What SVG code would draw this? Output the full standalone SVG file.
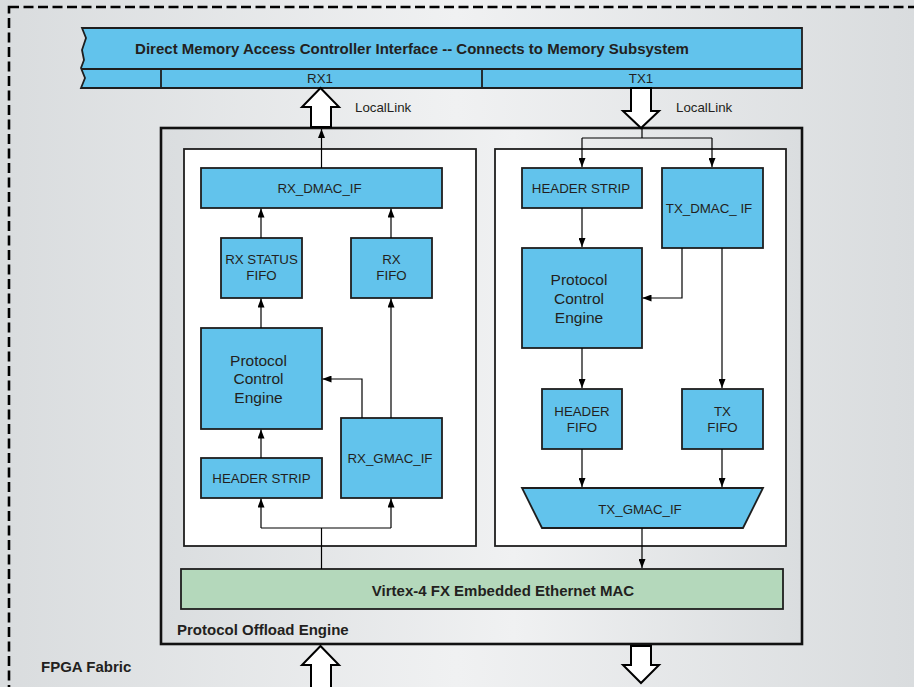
<svg xmlns="http://www.w3.org/2000/svg" width="914" height="687" viewBox="0 0 914 687">
  <defs>
    <linearGradient id="bgGrad" gradientUnits="userSpaceOnUse" x1="0" y1="0" x2="914" y2="0">
      <stop offset="0" stop-color="#d9dcde"/>
      <stop offset="0.5" stop-color="#f0f1f2"/>
      <stop offset="1" stop-color="#d9dcde"/>
    </linearGradient>
    <linearGradient id="poeGrad" gradientUnits="userSpaceOnUse" x1="161" y1="0" x2="802" y2="0">
      <stop offset="0" stop-color="#dadddf"/>
      <stop offset="0.55" stop-color="#f0f1f2"/>
      <stop offset="1" stop-color="#dadddf"/>
    </linearGradient>
    <marker id="arrow" viewBox="0 0 9 7" markerUnits="userSpaceOnUse" markerWidth="9" markerHeight="7" refX="9" refY="3.5" orient="auto">
      <path d="M0,0 L9,3.5 L0,7 Z" fill="#000"/>
    </marker>
    <style>
      .blk { fill: #62c3ec; stroke: #1e1e1e; stroke-width: 1.8; }
      .mac { fill: #b4d8bb; stroke: #1e1e1e; stroke-width: 1.8; }
      .pane { fill: #ffffff; stroke: #1e1e1e; stroke-width: 1.8; }
      .wire { fill: none; stroke: #000; stroke-width: 1.2; }
      .fat { fill: #ffffff; stroke: #000; stroke-width: 2; stroke-linejoin: miter; }
      .lbl { font-family: "Liberation Sans", Arial, sans-serif; font-size: 13.3px; fill: #231f20; text-anchor: middle; }
      .big { font-size: 15.5px; }
      .bold { font-family: "Liberation Sans", Arial, sans-serif; font-size: 15px; font-weight: bold; fill: #231f20; }
      .mid { text-anchor: middle; }
      .side { font-family: "Liberation Sans", Arial, sans-serif; font-size: 13.3px; fill: #231f20; }
    </style>
  </defs>

  <!-- FPGA fabric background -->
  <rect x="0" y="0" width="914" height="687" fill="url(#bgGrad)"/>
  <rect x="9" y="7" width="920" height="700" fill="none" stroke="#000" stroke-width="2.6" stroke-dasharray="10 4.5"/>
  <text class="bold" x="41" y="672">FPGA Fabric</text>

  <!-- DMA controller interface banner -->
  <g id="dmac-banner">
    <path d="M82,28 L802,28 L802,88 L81,88 L85,78 L81,68 L84,60 L82,50 L86,38 Z" fill="#62c3ec" stroke="#1e1e1e" stroke-width="1.8"/>
    <line x1="81" y1="69" x2="802" y2="69" stroke="#1e1e1e" stroke-width="1.8"/>
    <line x1="161" y1="69" x2="161" y2="88" stroke="#1e1e1e" stroke-width="1.8"/>
    <line x1="482" y1="69" x2="482" y2="88" stroke="#1e1e1e" stroke-width="1.8"/>
    <text class="bold mid" x="412" y="53.5">Direct Memory Access Controller Interface -- Connects to Memory Subsystem</text>
    <text class="lbl" x="320" y="83">RX1</text>
    <text class="lbl" x="641" y="83">TX1</text>
  </g>

  <!-- Protocol offload engine enclosure -->
  <g id="poe">
    <rect x="161" y="128" width="641" height="516" fill="url(#poeGrad)" stroke="#111" stroke-width="2.6"/>
    <text class="bold" x="177" y="634.5">Protocol Offload Engine</text>
  </g>

  <g id="rx-pane"><rect class="pane" x="184" y="149" width="292" height="397"/></g>
  <g id="tx-pane"><rect class="pane" x="495" y="149" width="291" height="397"/></g>

  <!-- Receive path blocks -->
  <g id="rx-dmac-if">
    <rect class="blk" x="201" y="168" width="241" height="40"/>
    <text class="lbl" x="319.5" y="193">RX_DMAC_IF</text>
  </g>
  <g id="rx-status-fifo">
    <rect class="blk" x="221" y="238" width="81" height="60"/>
    <text class="lbl" x="261.5" y="264">RX STATUS</text>
    <text class="lbl" x="261.5" y="280">FIFO</text>
  </g>
  <g id="rx-fifo">
    <rect class="blk" x="351" y="238" width="81" height="60"/>
    <text class="lbl" x="391.5" y="264">RX</text>
    <text class="lbl" x="391.5" y="280">FIFO</text>
  </g>
  <g id="rx-pce">
    <rect class="blk" x="201" y="328" width="121" height="101"/>
    <text class="lbl big" x="258.5" y="365.5">Protocol</text>
    <text class="lbl big" x="258.5" y="384">Control</text>
    <text class="lbl big" x="258.5" y="402.5">Engine</text>
  </g>
  <g id="rx-header-strip">
    <rect class="blk" x="201" y="458" width="121" height="40"/>
    <text class="lbl" x="261.5" y="482.5">HEADER STRIP</text>
  </g>
  <g id="rx-gmac-if">
    <rect class="blk" x="341" y="418" width="101" height="80"/>
    <text class="lbl" x="390" y="463">RX_GMAC_IF</text>
  </g>

  <!-- Transmit path blocks -->
  <g id="tx-header-strip">
    <rect class="blk" x="522" y="168" width="120" height="40"/>
    <text class="lbl" x="581" y="193">HEADER STRIP</text>
  </g>
  <g id="tx-dmac-if">
    <rect class="blk" x="662" y="168" width="101" height="80"/>
    <text class="lbl" x="709" y="213">TX_DMAC_ IF</text>
  </g>
  <g id="tx-pce">
    <rect class="blk" x="522" y="248" width="120" height="100"/>
    <text class="lbl big" x="579" y="284.5">Protocol</text>
    <text class="lbl big" x="579" y="303.5">Control</text>
    <text class="lbl big" x="579" y="322.5">Engine</text>
  </g>
  <g id="tx-header-fifo">
    <rect class="blk" x="542" y="389" width="80" height="60"/>
    <text class="lbl" x="582" y="416">HEADER</text>
    <text class="lbl" x="582" y="432">FIFO</text>
  </g>
  <g id="tx-fifo">
    <rect class="blk" x="682" y="389" width="81" height="60"/>
    <text class="lbl" x="722.5" y="416">TX</text>
    <text class="lbl" x="722.5" y="432">FIFO</text>
  </g>
  <g id="tx-gmac-if">
    <path class="blk" d="M522,488 L763,488 L743,528 L542,528 Z"/>
    <text class="lbl" x="640" y="514">TX_GMAC_IF</text>
  </g>

  <!-- Embedded Ethernet MAC -->
  <g id="emac">
    <rect class="mac" x="181" y="569" width="602" height="40"/>
    <text class="bold mid" x="503" y="596">Virtex-4 FX Embedded Ethernet MAC</text>
  </g>

  <!-- LocalLink ports -->
  <g id="locallink">
    <path class="fat" d="M320.5,88 L339,107 L331,107 L331,127 L311,127 L311,107 L302,107 Z"/>
    <text class="side" x="355" y="112">LocalLink</text>
    <path class="fat" d="M631,88 L651,88 L651,111 L659,111 L641,128 L623,111 L631,111 Z"/>
    <text class="side" x="676" y="112">LocalLink</text>
    <path class="fat" d="M320.5,646 L339,665 L331,665 L331,692 L311,692 L311,665 L302,665 Z"/>
    <path class="fat" d="M631,646 L651,646 L651,665 L659,665 L641,683 L623,665 L631,665 Z"/>
  </g>

  <!-- Data-path connectors -->
  <g id="connectors">
    <!-- receive -->
    <path class="wire" d="M321.5,168 L321.5,129" marker-end="url(#arrow)"/>
    <path class="wire" d="M261,238 L261,208.5" marker-end="url(#arrow)"/>
    <path class="wire" d="M391,238 L391,208.5" marker-end="url(#arrow)"/>
    <path class="wire" d="M261,328 L261,298.5" marker-end="url(#arrow)"/>
    <path class="wire" d="M261,458 L261,429.5" marker-end="url(#arrow)"/>
    <path class="wire" d="M391,418 L391,298.5" marker-end="url(#arrow)"/>
    <path class="wire" d="M362,418 L362,379 L322.5,379" marker-end="url(#arrow)"/>
    <path class="wire" d="M321.5,569 L321.5,528"/>
    <path class="wire" d="M261,528 L391,528"/>
    <path class="wire" d="M261,528 L261,498.5" marker-end="url(#arrow)"/>
    <path class="wire" d="M391,528 L391,498.5" marker-end="url(#arrow)"/>
    <!-- transmit -->
    <path class="wire" d="M642,128 L642,138"/>
    <path class="wire" d="M582,138 L712,138"/>
    <path class="wire" d="M582,138 L582,167" marker-end="url(#arrow)"/>
    <path class="wire" d="M712,138 L712,167" marker-end="url(#arrow)"/>
    <path class="wire" d="M582,208 L582,247" marker-end="url(#arrow)"/>
    <path class="wire" d="M682,248 L682,298 L642.5,298" marker-end="url(#arrow)"/>
    <path class="wire" d="M722,248 L722,388" marker-end="url(#arrow)"/>
    <path class="wire" d="M582,348 L582,388" marker-end="url(#arrow)"/>
    <path class="wire" d="M582,449 L582,487" marker-end="url(#arrow)"/>
    <path class="wire" d="M722,449 L722,487" marker-end="url(#arrow)"/>
    <path class="wire" d="M642,528 L642,568" marker-end="url(#arrow)"/>
  </g>
</svg>
